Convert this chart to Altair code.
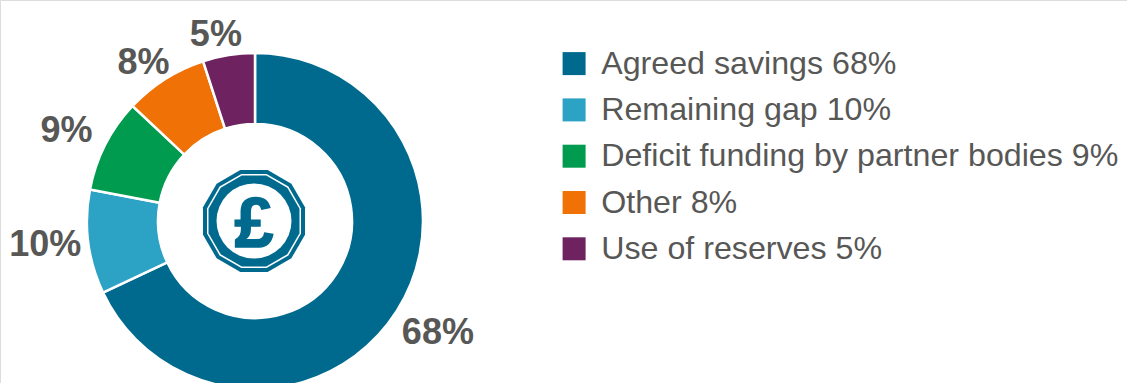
import math
import altair as alt
import pandas as pd

categories = ["Agreed savings", "Remaining gap", "Deficit funding by partner bodies", "Other", "Use of reserves"]
shares = [68, 10, 9, 8, 5]
colours = ["#006a8e", "#2ca2c4", "#009b4e", "#f07105", "#6e2360"]

# Where each percent label sits around the ring: position on the 0-100 dial, and distance from centre.
label_turns = [33.75, 73.2, 82.1, 90.2, 96.7]
label_radii = [214.5, 211, 209, 193, 190]

TEXT = "#575756"
TEAL = colours[0]
FONT = "Liberation Sans"
CX, CY = 255, 221


def dodecagon():
    """Unit dodecagon with a flat top, as an SVG path for a custom symbol."""
    r = 1 / math.cos(math.radians(15))
    pts = [(r * math.cos(math.radians(15 + 30 * k)), r * math.sin(math.radians(15 + 30 * k))) for k in range(12)]
    return "M" + "L".join(f"{x:.4f},{y:.4f}" for x, y in pts) + "Z"


legend_labels = [f"{c} {s}%" for c, s in zip(categories, shares)]

df = pd.DataFrame({
    "category": categories,
    "share": shares,
    "rank": list(range(len(shares))),
    "legend_label": legend_labels,
    "label": [f"{s}%" for s in shares],
    "label_turn": label_turns,
    "label_radius": label_radii,
})

base = alt.Chart(df)
theta_scale = alt.Scale(domain=[0, 100], range=[0, 2 * math.pi])

ring = base.mark_arc(outerRadius=168, innerRadius=97, stroke="white", strokeWidth=2.5).encode(
    x=alt.value(CX),
    y=alt.value(CY),
    theta=alt.Theta("share:Q", stack=True, scale=theta_scale),
    order=alt.Order("rank:O"),
    color=alt.Color(
        "legend_label:N",
        sort=legend_labels,
        scale=alt.Scale(domain=legend_labels, range=colours),
        legend=alt.Legend(
            title=None,
            orient="none",
            legendX=558,
            legendY=47.5,
            padding=0,
            symbolType="square",
            symbolSize=529,
            symbolStrokeWidth=0,
            symbolOpacity=1,
            labelFontSize=32.2,
            labelFont=FONT,
            labelColor=TEXT,
            labelOffset=11,
            labelLimit=600,
            rowPadding=13.3,
        ),
    ),
)

labels = base.mark_text(
    font=FONT, fontWeight="bold", fontSize=36, color=TEXT, align="center", baseline="middle"
).encode(
    x=alt.value(CX),
    y=alt.value(CY),
    theta=alt.Theta("label_turn:Q", stack=None, scale=theta_scale),
    radius=alt.Radius("label_radius:Q", scale=None),
    text="label:N",
)


def emblem(colour, radius, shape):
    return alt.Chart(pd.DataFrame({"k": [0]})).mark_point(
        shape=shape, filled=True, fill=colour, opacity=1, size=(2 * radius) ** 2
    ).encode(x=alt.value(CX - 1), y=alt.value(CY))


coin = alt.layer(
    emblem(TEAL, 51, dodecagon()),
    emblem("white", 47, dodecagon()),
    emblem(TEAL, 45.5, dodecagon()),
    emblem("white", 37.5, "circle"),
)

pound = alt.Chart(pd.DataFrame({"t": ["£"]})).mark_text(
    font=FONT, fontWeight="bold", fontSize=70, color=TEAL, stroke=TEAL, strokeWidth=1.5,
    align="center", baseline="alphabetic",
).encode(x=alt.value(CX - 1), y=alt.value(247), text="t:N")

chart = alt.layer(ring, labels, coin, pound).resolve_scale(theta="shared").properties(
    width=1127,
    height=383,
    padding=0,
    autosize=alt.AutoSizeParams(type="none"),
).configure_view(stroke=None).configure(background="white")

chart.save("out.html", embed_options={"renderer": "svg", "actions": False})
